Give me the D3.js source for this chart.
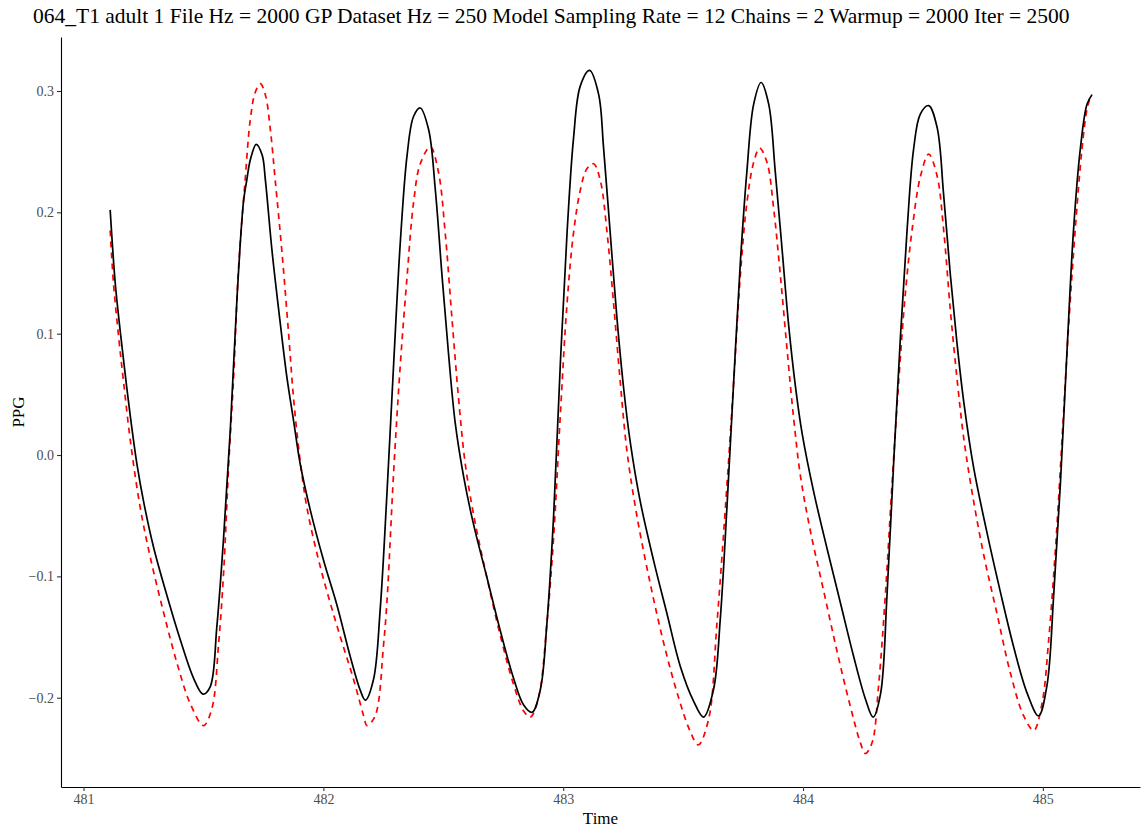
<!DOCTYPE html>
<html>
<head>
<meta charset="utf-8">
<script src="https://cdn.jsdelivr.net/npm/d3@7"></script>
<style>
  body { margin: 0; background: #fff; }
  #chart { width: 1144px; height: 827px; }
</style>
</head>
<body>
<div id="chart"></div>
<script>
// Values
const titleText = "064_T1 adult 1 File Hz = 2000 GP Dataset Hz = 250 Model Sampling Rate = 12 Chains = 2 Warmup = 2000 Iter = 2500";
const xTicks = [481, 482, 483, 484, 485];
const yTicks = [-0.2, -0.1, 0.0, 0.1, 0.2, 0.3];

// black solid line (observed)
const blackTime = [481.111, 481.132, 481.153, 481.174, 481.195, 481.223, 481.250, 481.292, 481.348, 481.403, 481.459, 481.498,
  481.528, 481.556, 481.584, 481.612, 481.640, 481.667, 481.681, 481.695, 481.720, 481.745, 481.758, 481.786, 481.820, 481.848,
  481.876, 481.904, 481.945, 482.001, 482.057, 482.112, 482.154, 482.175, 482.209, 482.237, 482.265, 482.293, 482.321, 482.349,
  482.376, 482.404, 482.439, 482.467, 482.495, 482.522, 482.550, 482.585, 482.626, 482.682, 482.738, 482.793, 482.835, 482.870,
  482.905, 482.932, 482.960, 482.988, 483.016, 483.043, 483.071, 483.110, 483.148, 483.168, 483.196, 483.224, 483.252, 483.280,
  483.321, 483.377, 483.433, 483.488, 483.544, 483.585, 483.627, 483.655, 483.683, 483.711, 483.739, 483.766, 483.794, 483.825,
  483.857, 483.884, 483.912, 483.940, 483.968, 483.996, 484.044, 484.100, 484.156, 484.211, 484.260, 484.292, 484.323, 484.350,
  484.378, 484.406, 484.434, 484.461, 484.489, 484.524, 484.559, 484.586, 484.614, 484.642, 484.670, 484.711, 484.767, 484.823,
  484.878, 484.934, 484.982, 485.017, 485.045, 485.073, 485.101, 485.128, 485.156, 485.184, 485.205];
const blackPPG = [0.202, 0.142, 0.102, 0.066, 0.032, -0.008, -0.038, -0.076, -0.116, -0.152, -0.184, -0.197,
  -0.191, -0.141, -0.068, 0.021, 0.130, 0.209, 0.227, 0.243, 0.256, 0.247, 0.227, 0.168, 0.109, 0.064,
  0.028, -0.008, -0.045, -0.087, -0.124, -0.166, -0.194, -0.202, -0.185, -0.127, -0.032, 0.075, 0.176, 0.247,
  0.279, 0.286, 0.268, 0.218, 0.147, 0.083, 0.026, -0.018, -0.057, -0.101, -0.145, -0.184, -0.206, -0.212,
  -0.193, -0.139, -0.050, 0.075, 0.183, 0.261, 0.304, 0.317, 0.297, 0.254, 0.183, 0.113, 0.055, 0.010,
  -0.038, -0.087, -0.131, -0.174, -0.203, -0.216, -0.193, -0.135, -0.042, 0.061, 0.160, 0.234, 0.289, 0.307,
  0.289, 0.234, 0.171, 0.107, 0.057, 0.018, -0.030, -0.077, -0.122, -0.166, -0.201, -0.216, -0.197, -0.116,
  -0.006, 0.097, 0.186, 0.252, 0.281, 0.288, 0.270, 0.215, 0.149, 0.092, 0.044, -0.010, -0.064, -0.113,
  -0.158, -0.196, -0.215, -0.190, -0.116, -0.024, 0.087, 0.186, 0.252, 0.289, 0.297];

// red dashed line (model)
const redTime = [481.111, 481.125, 481.146, 481.167, 481.195, 481.236, 481.278, 481.334, 481.389, 481.445, 481.500, 481.535,
  481.563, 481.584, 481.605, 481.626, 481.646, 481.674, 481.695, 481.716, 481.737, 481.758, 481.779, 481.799, 481.827, 481.855,
  481.876, 481.904, 481.932, 481.987, 482.057, 482.126, 482.168, 482.182, 482.216, 482.251, 482.265, 482.293, 482.321, 482.349,
  482.376, 482.404, 482.446, 482.480, 482.508, 482.536, 482.564, 482.592, 482.633, 482.682, 482.738, 482.793, 482.835, 482.863,
  482.897, 482.932, 482.960, 482.988, 483.016, 483.043, 483.071, 483.099, 483.127, 483.155, 483.183, 483.210, 483.238, 483.266,
  483.308, 483.363, 483.419, 483.475, 483.530, 483.563, 483.606, 483.641, 483.683, 483.711, 483.739, 483.766, 483.794,
  483.819, 483.850, 483.877, 483.905, 483.933, 483.961, 483.989, 484.030, 484.086, 484.142, 484.197, 484.239, 484.260, 484.288,
  484.315, 484.343, 484.371, 484.399, 484.427, 484.455, 484.490, 484.524, 484.559, 484.586, 484.614, 484.642, 484.670, 484.706,
  484.753, 484.809, 484.865, 484.920, 484.962, 484.997, 485.024, 485.052, 485.080, 485.107, 485.135, 485.163, 485.184, 485.200];
const redPPG = [0.185, 0.141, 0.098, 0.060, 0.012, -0.043, -0.084, -0.130, -0.171, -0.205, -0.223, -0.209,
  -0.156, -0.097, -0.009, 0.065, 0.153, 0.227, 0.276, 0.299, 0.306, 0.297, 0.268, 0.227, 0.168, 0.100,
  0.046, -0.006, -0.044, -0.092, -0.141, -0.185, -0.215, -0.223, -0.215, -0.156, -0.121, -0.014, 0.075, 0.147,
  0.208, 0.240, 0.254, 0.233, 0.183, 0.113, 0.046, -0.008, -0.056, -0.101, -0.149, -0.189, -0.211, -0.216,
  -0.200, -0.139, -0.068, 0.033, 0.125, 0.183, 0.218, 0.236, 0.240, 0.226, 0.183, 0.125, 0.060, 0.003,
  -0.051, -0.106, -0.155, -0.196, -0.228, -0.239, -0.218, -0.139, -0.024, 0.061, 0.149, 0.208, 0.241,
  0.253, 0.241, 0.204, 0.149, 0.088, 0.030, -0.017, -0.062, -0.112, -0.162, -0.207, -0.237, -0.246, -0.237,
  -0.190, -0.116, -0.024, 0.061, 0.134, 0.186, 0.230, 0.248, 0.230, 0.186, 0.120, 0.063, 0.014, -0.032,
  -0.082, -0.131, -0.180, -0.215, -0.227, -0.204, -0.153, -0.079, 0.013, 0.105, 0.186, 0.252, 0.285, 0.296];

const width = 1144;
const height = 827;
const margin = { top: 37, right: 4, bottom: 40, left: 61 };

const svg = d3.select("#chart")
  .append("svg")
  .attr("width", width)
  .attr("height", height)
  .style("font-family", "'Liberation Serif', 'DejaVu Serif', serif");

// ggplot-style domains (data range with 5% padding)
const xScale = d3.scaleLinear()
  .domain([480.906, 485.405])
  .range([margin.left, width - margin.right]);

const yScale = d3.scaleLinear()
  .domain([-0.2736, 0.3445])
  .range([height - margin.bottom, margin.top]);

// Axes
const xAxis = svg.append("g")
  .attr("transform", `translate(0,${height - margin.bottom})`)
  .call(d3.axisBottom(xScale).tickValues(xTicks).tickFormat(d3.format("d")).tickSize(4).tickPadding(3).tickSizeOuter(0));

const yAxis = svg.append("g")
  .attr("transform", `translate(${margin.left},0)`)
  .call(d3.axisLeft(yScale).tickValues(yTicks).tickFormat(d3.format(".1f")).tickSize(4).tickPadding(3).tickSizeOuter(0));

[xAxis, yAxis].forEach((g) => {
  g.select(".domain").attr("stroke", "#000").attr("stroke-width", 1.1);
  g.selectAll(".tick line").attr("stroke", "#333").attr("stroke-width", 1.1);
  g.selectAll(".tick text")
    .attr("fill", "#4d4d4d")
    .attr("font-size", "14px")
    .attr("font-family", "'Liberation Serif', 'DejaVu Serif', serif");
});

// Lines
const line = d3.line()
  .x((d) => xScale(d.t))
  .y((d) => yScale(d.v))
  .curve(d3.curveCatmullRom.alpha(0.5));

const redData = redTime.map((t, i) => ({ t: t, v: redPPG[i] }));
const blackData = blackTime.map((t, i) => ({ t: t, v: blackPPG[i] }));

svg.append("path")
  .datum(redData)
  .attr("d", line)
  .attr("fill", "none")
  .attr("stroke", "#ff0000")
  .attr("stroke-width", 1.7)
  .attr("stroke-dasharray", "6,5");

svg.append("path")
  .datum(blackData)
  .attr("d", line)
  .attr("fill", "none")
  .attr("stroke", "#000")
  .attr("stroke-width", 1.7);

// Titles
svg.append("text")
  .attr("x", 33)
  .attr("y", 23)
  .attr("font-size", "21.5px")
  .attr("fill", "#000")
  .text(titleText);

svg.append("text")
  .attr("x", (margin.left + width - margin.right) / 2)
  .attr("y", 824)
  .attr("text-anchor", "middle")
  .attr("font-size", "17px")
  .attr("fill", "#000")
  .text("Time");

svg.append("text")
  .attr("transform", `translate(24,${(margin.top + height - margin.bottom) / 2}) rotate(-90)`)
  .attr("text-anchor", "middle")
  .attr("font-size", "17px")
  .attr("fill", "#000")
  .text("PPG");
</script>
</body>
</html>
